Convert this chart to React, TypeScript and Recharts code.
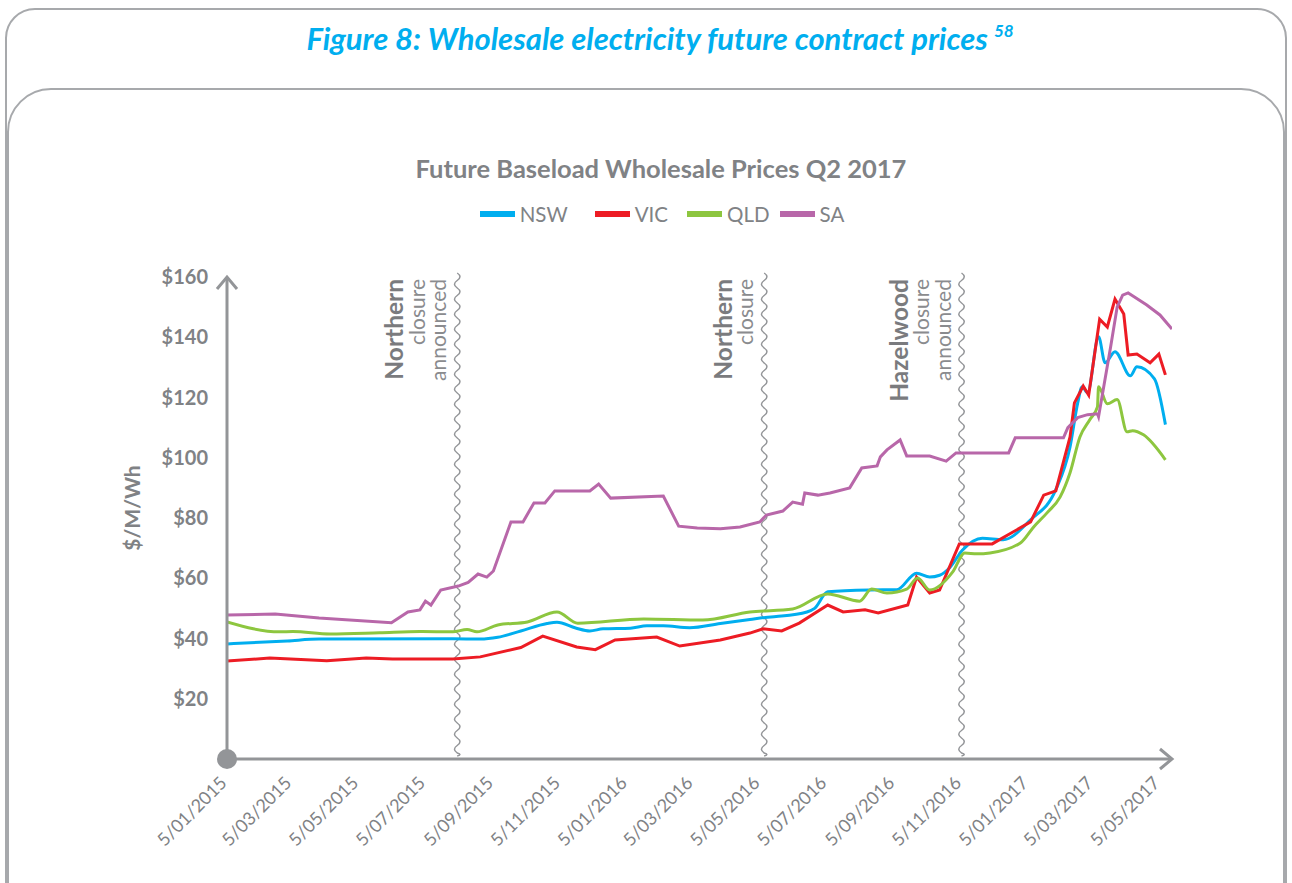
import React from 'react';
import { LineChart, Line, XAxis, YAxis, ReferenceLine, ReferenceDot, Legend } from 'recharts';

// ---------- data ----------
const nswDates = ['2015-01-05','2015-03-01','2015-03-30','2015-07-30','2015-08-24','2015-09-09','2015-09-30','2015-10-24','2015-11-02','2015-11-19','2015-12-02','2015-12-14','2016-01-08','2016-01-23','2016-02-07','2016-03-02','2016-03-30','2016-04-26','2016-05-10','2016-05-20','2016-06-17','2016-06-24','2016-07-06','2016-08-13','2016-09-07','2016-09-25','2016-10-07','2016-10-16','2016-10-25','2016-11-06','2016-11-24','2016-12-13','2017-01-07','2017-01-30','2017-02-12','2017-02-19','2017-02-23','2017-02-28','2017-03-10','2017-03-16','2017-03-25','2017-04-08','2017-04-14','2017-04-30','2017-05-10'];
const nswValues = [38.2,39.2,39.8,39.9,39.8,40.4,42.5,45.0,45.4,43.5,42.5,43.2,43.4,44.2,44.2,43.6,45.0,46.3,47.0,47.3,48.8,50.0,55.5,56.1,56.2,61.7,60.4,61.0,63.4,69.4,73.3,72.8,79.4,89.4,103.6,118.2,123.6,121.6,140.2,131.5,135.2,127.2,130.2,126.2,111.0];

const vicDates = ['2015-01-05','2015-02-13','2015-04-06','2015-05-12','2015-06-05','2015-07-30','2015-08-24','2015-09-30','2015-10-20','2015-11-20','2015-12-07','2015-12-25','2016-02-01','2016-02-22','2016-03-30','2016-04-26','2016-05-08','2016-05-25','2016-06-10','2016-07-06','2016-07-20','2016-08-09','2016-08-21','2016-09-17','2016-09-25','2016-10-07','2016-10-16','2016-11-03','2016-12-03','2017-01-07','2017-01-19','2017-01-30','2017-02-12','2017-02-16','2017-02-24','2017-03-01','2017-03-11','2017-03-18','2017-03-25','2017-04-02','2017-04-06','2017-04-14','2017-04-26','2017-05-04','2017-05-10'];
const vicValues = [32.5,33.5,32.6,33.5,33.2,33.2,33.9,37.0,40.8,37.2,36.3,39.5,40.5,37.5,39.5,41.8,43.2,42.5,45.1,51.1,48.8,49.5,48.5,51.1,60.4,55.1,56.1,71.4,71.4,78.7,87.6,89.0,106.9,118.2,123.8,120.8,146.0,143.4,152.7,147.7,134.1,134.4,131.5,134.4,127.5];

const qldDates = ['2015-01-05','2015-02-22','2015-03-06','2015-04-09','2015-05-24','2015-06-30','2015-07-30','2015-08-12','2015-08-21','2015-09-09','2015-10-06','2015-11-02','2015-11-21','2016-01-20','2016-03-14','2016-04-26','2016-06-04','2016-07-06','2016-08-04','2016-08-15','2016-08-29','2016-09-16','2016-09-26','2016-10-07','2016-10-28','2016-11-08','2016-11-19','2016-12-01','2016-12-29','2017-01-10','2017-01-22','2017-02-03','2017-02-12','2017-02-21','2017-03-02','2017-03-09','2017-03-10','2017-03-18','2017-03-27','2017-04-05','2017-04-10','2017-04-20','2017-05-10'];
const qldValues = [45.5,42.2,42.3,41.5,41.9,42.3,42.2,43.0,42.2,44.5,45.5,48.8,45.1,46.5,46.1,48.8,49.8,54.8,52.4,56.4,55.1,56.4,60.1,56.1,62.1,68.4,68.1,68.4,71.8,77.1,81.7,87.0,95.0,106.9,112.6,116.9,123.6,117.9,119.3,108.6,109.0,107.6,99.3];

const saDates = ['2015-01-05','2015-02-18','2015-03-30','2015-06-04','2015-06-19','2015-06-30','2015-07-05','2015-07-10','2015-07-19','2015-08-04','2015-08-13','2015-08-22','2015-08-30','2015-09-05','2015-09-21','2015-10-02','2015-10-12','2015-10-22','2015-10-31','2015-12-02','2015-12-10','2015-12-21','2016-02-07','2016-02-21','2016-03-09','2016-03-30','2016-04-17','2016-05-05','2016-05-11','2016-05-26','2016-06-04','2016-06-13','2016-06-15','2016-06-27','2016-07-08','2016-07-26','2016-08-06','2016-08-20','2016-08-23','2016-08-29','2016-09-10','2016-09-16','2016-10-07','2016-10-22','2016-10-31','2016-12-18','2016-12-24','2017-02-06','2017-02-10','2017-02-19','2017-02-28','2017-03-09','2017-03-10','2017-03-21','2017-03-27','2017-04-01','2017-04-06','2017-04-10','2017-04-23','2017-05-05','2017-05-16'];
const saValues = [47.8,48.1,46.8,45.2,48.8,49.5,52.4,51.1,56.1,57.4,58.6,61.4,60.4,62.4,78.7,78.7,85.0,85.0,89.0,89.0,91.3,86.6,87.3,77.3,76.7,76.4,77.0,78.7,81.0,82.3,85.3,84.6,88.3,87.6,88.3,90.0,96.6,97.3,100.3,102.6,105.9,100.6,100.6,98.9,101.6,101.6,106.6,106.6,110.0,113.3,114.3,114.6,113.6,136.8,150.1,154.0,154.7,153.8,150.7,147.4,142.7];

const seriesNames = ['NSW', 'VIC', 'QLD', 'SA'];
const seriesColors = ['#00aeef', '#ed1c24', '#8dc63f', '#b867a9'];

const xTickDates = ['2015-01-05','2015-03-05','2015-05-05','2015-07-05','2015-09-05','2015-11-05','2016-01-05','2016-03-05','2016-05-05','2016-07-05','2016-09-05','2016-11-05','2017-01-05','2017-03-05','2017-05-05'];
const xTickLabels = ['5/01/2015','5/03/2015','5/05/2015','5/07/2015','5/09/2015','5/11/2015','5/01/2016','5/03/2016','5/05/2016','5/07/2016','5/09/2016','5/11/2016','5/01/2017','5/03/2017','5/05/2017'];
const xStart = '2015-01-05';
const xEnd = '2017-05-16';

const yTicks = [20, 40, 60, 80, 100, 120, 140, 160];
const yTickLabels = ['$20', '$40', '$60', '$80', '$100', '$120', '$140', '$160'];

const annotationDates = ['2015-08-03', '2016-05-09', '2016-11-05'];
const annotationTitles = ['Northern', 'Northern', 'Hazelwood'];
const annotationNotes = [['closure', 'announced'], ['closure'], ['closure', 'announced']];

// ---------- helpers ----------
const TS = (s: string) => Date.parse(s + 'T00:00:00Z');
const toData = (dates: string[], values: number[]) => dates.map((d, i) => ({ ts: TS(d), value: values[i] }));
const seriesData = [toData(nswDates, nswValues), toData(vicDates, vicValues), toData(qldDates, qldValues), toData(saDates, saValues)];
const seriesTypes: any[] = ['monotone', 'linear', 'monotone', 'linear'];

const AXIS = '#939598';
const TEXT = '#808285';
const FONT = 'Lato, "Open Sans", sans-serif';

const xTickTs = xTickDates.map(TS);

const XTick = (props: any) => {
  const { x, y, payload } = props;
  const idx = xTickTs.indexOf(payload.value);
  const px = x + 1;
  const py = y + 25;
  return (
    <text x={px} y={py} transform={`rotate(-45, ${px}, ${py})`} textAnchor="end" fontSize={18} fill={TEXT} fontFamily={FONT}>
      {idx >= 0 ? xTickLabels[idx] : ''}
    </text>
  );
};

const YTick = (props: any) => {
  const { x, y, payload } = props;
  const idx = yTicks.indexOf(payload.value);
  return (
    <text x={x - 19} y={y} dy="0.36em" textAnchor="end" fontSize={20} fontWeight={700} fill={TEXT} fontFamily={FONT}>
      {idx >= 0 ? yTickLabels[idx] : ''}
    </text>
  );
};

const wavePath = (x: number, y1: number, y2: number) => {
  const half = 7.5;
  let d = `M${x},${y1}`;
  let y = y1;
  let i = 0;
  while (y < y2 - 0.01) {
    const ny = Math.min(y + half, y2);
    const cx = x + (i % 2 === 0 ? 5.5 : -5.5);
    d += ` Q${cx},${(y + ny) / 2} ${x},${ny}`;
    y = ny;
    i++;
  }
  return d;
};

const makeAnnotation = (title: string, notes: string[]) => (p: any) => {
  const x = p.x1;
  const top = Math.min(p.y1, p.y2);
  const bottom = Math.max(p.y1, p.y2);
  const lines = [title, ...notes];
  const n = lines.length;
  const ty = top + 2;
  return (
    <g>
      <path d={wavePath(x, top - 4, bottom - 3)} stroke={AXIS} strokeWidth={1.5} fill="none" />
      {lines.map((t, i) => {
        const bx = x - 11 - 21.5 * (n - 1 - i);
        const bold = i === 0;
        return (
          <text key={i} x={bx} y={ty} transform={`rotate(-90, ${bx}, ${ty})`} textAnchor="end"
            fontSize={bold ? 24.5 : 21} fontWeight={bold ? 700 : 400} fill={bold ? '#7a7b7e' : '#8a8b8e'} fontFamily={FONT}>
            {t}
          </text>
        );
      })}
    </g>
  );
};

const legendGaps = [27, 19, 10, 0];
const LegendContent = (props: any) => {
  const payload = props.payload && props.payload.length ? props.payload : seriesNames.map((n, i) => ({ value: n, color: seriesColors[i] }));
  const ordered = seriesNames.map((n) => payload.find((p: any) => p.value === n)).filter(Boolean);
  return (
    <div style={{ display: 'flex', justifyContent: 'center', alignItems: 'center', fontFamily: FONT }}>
      {ordered.map((p: any, i: number) => (
        <div key={p.value} style={{ display: 'flex', alignItems: 'center', marginRight: legendGaps[i] }}>
          <span style={{ display: 'inline-block', width: 35, height: 6, background: p.color, marginRight: 5 }} />
          <span style={{ fontSize: 20.5, color: TEXT, lineHeight: '24px' }}>{p.value}</span>
        </div>
      ))}
    </div>
  );
};

const ArrowRight = (p: any) => (
  <path d={`M${p.cx - 12},${p.cy - 10}L${p.cx},${p.cy}L${p.cx - 12},${p.cy + 10}`} stroke={AXIS} strokeWidth={3} fill="none" />
);
const ArrowUp = (p: any) => (
  <path d={`M${p.cx - 10},${p.cy + 12}L${p.cx},${p.cy}L${p.cx + 10},${p.cy + 12}`} stroke={AXIS} strokeWidth={3} fill="none" />
);

export default function App() {
  return (
    <div style={{ position: 'fixed', left: 0, top: 0, width: 1292, height: 883, background: '#fff', overflow: 'hidden', fontFamily: FONT }}>
      <div style={{ position: 'absolute', left: 5, top: 8, width: 1278, height: 1000, border: '2px solid #a7a9ac', borderRadius: 30 }} />
      <div style={{ position: 'absolute', left: 14, top: 20, width: 1292, textAlign: 'center', color: '#00aeef', fontSize: 31, fontWeight: 700, fontStyle: 'italic', lineHeight: 1.2, whiteSpace: 'nowrap' }}>
        Figure 8: Wholesale electricity future contract prices
        <span style={{ fontSize: 17, position: 'relative', top: -13, marginLeft: 6 }}>58</span>
      </div>
      <div style={{ position: 'absolute', left: 7, top: 88, width: 1274, height: 1000, border: '2px solid #a7a9ac', borderRadius: 44 }} />
      <div style={{ position: 'absolute', left: 15, top: 153, width: 1292, textAlign: 'center', color: TEXT, fontSize: 25.5, fontWeight: 700, lineHeight: 1.2, whiteSpace: 'nowrap' }}>
        Future Baseload Wholesale Prices Q2 2017
      </div>
      <div style={{ position: 'absolute', left: 131, top: 508, transform: 'translate(-50%, -50%) rotate(-90deg)', fontSize: 21, fontWeight: 700, color: TEXT, whiteSpace: 'nowrap', lineHeight: 1 }}>
        $/M/Wh
      </div>
      <div style={{ position: 'absolute', left: 0, top: 0 }}>
        <LineChart width={1292} height={883} margin={{ top: 277, right: 120, bottom: 94, left: 167 }}>
          <XAxis type="number" dataKey="ts" domain={[TS(xStart), TS(xEnd)]} ticks={xTickTs} interval={0} height={30}
            axisLine={{ stroke: AXIS, strokeWidth: 3 }} tickLine={false} tickSize={0} tickMargin={0} tick={<XTick />} allowDataOverflow />
          <YAxis type="number" domain={[0, 160]} ticks={yTicks} interval={0} width={60}
            axisLine={{ stroke: AXIS, strokeWidth: 3 }} tickLine={false} tickSize={0} tickMargin={0} tick={<YTick />} />
          <Legend layout="horizontal" verticalAlign="middle" align="center" content={<LegendContent />}
            wrapperStyle={{ top: 202, left: 16, width: 1292, height: 24 }} />
          {annotationDates.map((d, i) => (
            <ReferenceLine key={d} x={TS(d)} ifOverflow="visible" shape={makeAnnotation(annotationTitles[i], annotationNotes[i])} />
          ))}
          {seriesNames.map((n, i) => (
            <Line key={n} name={n} data={seriesData[i]} dataKey="value" type={seriesTypes[i]} stroke={seriesColors[i]}
              strokeWidth={3} dot={false} activeDot={false} isAnimationActive={false} />
          ))}
          <ReferenceDot x={TS(xStart)} y={0} r={10} fill={AXIS} stroke="none" ifOverflow="visible" />
          <ReferenceDot x={TS(xEnd)} y={0} ifOverflow="visible" shape={ArrowRight} />
          <ReferenceDot x={TS(xStart)} y={160} ifOverflow="visible" shape={ArrowUp} />
        </LineChart>
      </div>
    </div>
  );
}
